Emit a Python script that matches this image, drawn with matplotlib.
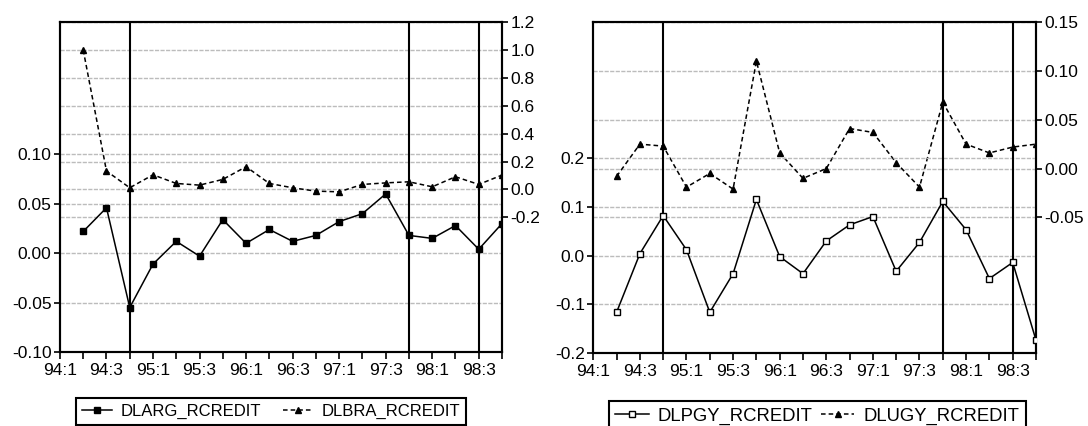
import matplotlib.pyplot as plt
import numpy as np

plt.rcParams['font.family'] = ['Liberation Sans Narrow', 'Liberation Sans', 'DejaVu Sans']
plt.rcParams['font.size'] = 12.5

# quarters 94:1 .. 98:4 -> 0..19, data from 94:2
quarters = ['94:1', '94:2', '94:3', '94:4', '95:1', '95:2', '95:3', '95:4',
            '96:1', '96:2', '96:3', '96:4', '97:1', '97:2', '97:3', '97:4',
            '98:1', '98:2', '98:3', '98:4']
t = np.arange(1, 20)

dlarg = [0.022, 0.046, -0.055, -0.011, 0.012, -0.003, 0.034, 0.010, 0.024,
         0.012, 0.018, 0.032, 0.040, 0.060, 0.018, 0.015, 0.028, 0.004, 0.030]
dlbra = [1.00, 0.132, 0.012, 0.105, 0.043, 0.031, 0.072, 0.163, 0.043,
         0.012, -0.012, -0.017, 0.036, 0.047, 0.055, 0.019, 0.091, 0.036, 0.103]

dlpgy = [-0.116, 0.004, 0.082, 0.012, -0.116, -0.037, 0.115, -0.002, -0.037,
         0.030, 0.063, 0.080, -0.032, 0.027, 0.111, 0.053, -0.047, -0.014, -0.173]
dlugy = [-0.008, 0.025, 0.023, -0.019, -0.005, -0.021, 0.110, 0.016, -0.010,
         0.000, 0.041, 0.037, 0.006, -0.019, 0.068, 0.025, 0.016, 0.022, 0.025]

vlines = [3, 15, 18]
grid_kw = dict(color='#bcbcbc', lw=1.0, ls=(0, (3, 1)), zorder=0)

fig = plt.figure(figsize=(10.88, 4.26), dpi=100)


def panel(rect, s1, s2, n1, n2, ylim1, yt1, fmt1, ylim2, yt2, fmt2, mfc1,
          legx, legfs, colsp):
    ax = fig.add_axes(rect)
    ax2 = ax.twinx()
    ax.set_xlim(0, 19)
    ax.set_ylim(*ylim1)
    ax2.set_ylim(*ylim2)
    ax.set_yticks(yt1)
    ax.set_yticklabels([fmt1.format(v) for v in yt1])
    ax2.set_yticks(yt2)
    ax2.set_yticklabels([fmt2.format(v) for v in yt2])
    ax.set_xticks(range(20))
    ax.set_xticklabels([q if i % 2 == 0 else '' for i, q in enumerate(quarters)])
    for v in yt1:
        ax.axhline(v, **grid_kw)
    for v in yt2:
        ax2.axhline(v, **grid_kw)
    for v in vlines:
        ax.axvline(v, color='black', lw=1.5, zorder=1)
    l1, = ax.plot(t, s1, color='black', lw=1.1, marker='s', ms=4,
                  mfc=mfc1, mec='black', mew=1.0, label=n1, zorder=3)
    l2, = ax2.plot(t, s2, color='black', lw=1.1, ls=(0, (3, 2)), marker='^', ms=4,
                   mfc='black', mec='black', label=n2, zorder=3)
    for a in (ax, ax2):
        for sp in a.spines.values():
            sp.set_linewidth(1.5)
        a.tick_params(length=4, width=1.2, pad=2, labelsize=12.5)
    ax.tick_params(axis='x', length=5, pad=3)
    ax.patch.set_visible(False)
    ax.set_zorder(ax2.get_zorder() + 1)
    leg = fig.legend(handles=[l1, l2], loc='upper left', bbox_to_anchor=legx,
                     ncol=2, frameon=True, fancybox=False, edgecolor='black',
                     framealpha=1, handlelength=1.8, handletextpad=0.5,
                     columnspacing=colsp, borderpad=0.35, borderaxespad=0,
                     fontsize=legfs)
    leg.get_frame().set_linewidth(1.5)
    return ax, ax2


panel([0.0551, 0.1737, 0.4063, 0.7746], dlarg, dlbra,
      'DLARG_RCREDIT', 'DLBRA_RCREDIT',
      (-0.10, 0.234), [-0.10, -0.05, 0.00, 0.05, 0.10], '{:.2f}',
      (-1.165, 1.2), [-0.2, 0.0, 0.2, 0.4, 0.6, 0.8, 1.0, 1.2], '{:.1f}',
      'black', (76 / 1088, 1 - 398 / 426), 12, 1.35)

panel([0.5453, 0.1707, 0.4069, 0.7777], dlpgy, dlugy,
      'DLPGY_RCREDIT', 'DLUGY_RCREDIT',
      (-0.2, 0.4785), [-0.2, -0.1, 0.0, 0.1, 0.2], '{:.1f}',
      (-0.189, 0.15), [-0.05, 0.00, 0.05, 0.10, 0.15], '{:.2f}',
      'white', (609 / 1088, 1 - 401 / 426), 13.3, 0.45)

fig.savefig('out.png', dpi=100)
